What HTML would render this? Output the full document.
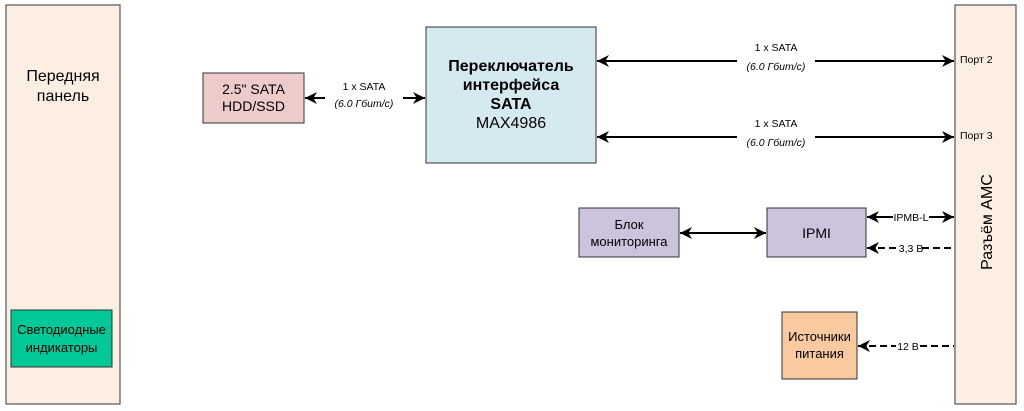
<!DOCTYPE html>
<html><head><meta charset="utf-8"><style>
html,body{margin:0;padding:0;background:#fff;}
svg{display:block;font-family:"Liberation Sans",Arial,sans-serif;}
</style></head><body>
<svg width="1024" height="411" viewBox="0 0 1024 411" xmlns="http://www.w3.org/2000/svg">
<defs>
<marker id="a" viewBox="0 0 10 10" refX="10" refY="5" markerWidth="6" markerHeight="6" orient="auto-start-reverse"><path d="M0,0 L10,5 L0,10 L3,5 z" fill="#000"/></marker>
</defs>
<rect x="6" y="5" width="114" height="399" fill="#fdeee3" stroke="#555" stroke-width="1.2"/>
<text x="63" y="81" font-size="16" text-anchor="middle">Передняя</text>
<text x="63" y="101" font-size="16" text-anchor="middle">панель</text>
<rect x="11" y="310" width="101" height="57" fill="#00c896" stroke="#333" stroke-width="1"/>
<text x="61.5" y="334" font-size="13" text-anchor="middle">Светодиодные</text>
<text x="61.5" y="352" font-size="13" text-anchor="middle">индикаторы</text>

<rect x="955" y="5" width="61" height="399" fill="#fdeee3" stroke="#555" stroke-width="1.2"/>
<text transform="translate(992,222) rotate(-90)" font-size="16" text-anchor="middle">Разъём AMC</text>
<text x="960" y="63" font-size="10.5">Порт 2</text>
<text x="960" y="139" font-size="10.5">Порт 3</text>

<rect x="203" y="73" width="101" height="50" fill="#eecbcb" stroke="#333"/>
<text x="253.5" y="94" font-size="14" text-anchor="middle">2.5" SATA</text>
<text x="253.5" y="111" font-size="14" text-anchor="middle">HDD/SSD</text>

<line x1="305" y1="98" x2="325" y2="98" stroke="#000" stroke-width="2" marker-start="url(#a)"/>
<line x1="403" y1="98" x2="425" y2="98" stroke="#000" stroke-width="2" marker-end="url(#a)"/>
<text x="364" y="90" font-size="10.5" text-anchor="middle">1 x SATA</text>
<text x="364" y="107" font-size="10.5" font-style="italic" text-anchor="middle">(6.0 Гбит/с)</text>

<rect x="426" y="27" width="170" height="136" fill="#d4eaf0" stroke="#333"/>
<text x="511" y="71" font-size="16" font-weight="bold" text-anchor="middle">Переключатель</text>
<text x="511" y="90" font-size="16" font-weight="bold" text-anchor="middle">интерфейса</text>
<text x="511" y="109" font-size="16" font-weight="bold" text-anchor="middle">SATA</text>
<text x="511" y="128" font-size="16" text-anchor="middle">MAX4986</text>

<line x1="597" y1="61" x2="737" y2="61" stroke="#000" stroke-width="2" marker-start="url(#a)"/>
<line x1="815" y1="61" x2="954" y2="61" stroke="#000" stroke-width="2" marker-end="url(#a)"/>
<text x="776" y="51" font-size="10.5" text-anchor="middle">1 x SATA</text>
<text x="776" y="70" font-size="10.5" font-style="italic" text-anchor="middle">(6.0 Гбит/с)</text>
<line x1="597" y1="137" x2="737" y2="137" stroke="#000" stroke-width="2" marker-start="url(#a)"/>
<line x1="815" y1="137" x2="954" y2="137" stroke="#000" stroke-width="2" marker-end="url(#a)"/>
<text x="776" y="127" font-size="10.5" text-anchor="middle">1 x SATA</text>
<text x="776" y="146" font-size="10.5" font-style="italic" text-anchor="middle">(6.0 Гбит/с)</text>

<rect x="579" y="208" width="100" height="49" fill="#cdc3dd" stroke="#333"/>
<text x="629" y="229" font-size="13" text-anchor="middle">Блок</text>
<text x="629" y="246" font-size="13" text-anchor="middle">мониторинга</text>
<line x1="680" y1="233" x2="766" y2="233" stroke="#000" stroke-width="2" marker-start="url(#a)" marker-end="url(#a)"/>
<rect x="767" y="208" width="99" height="49" fill="#cdc3dd" stroke="#333"/>
<text x="816.5" y="238" font-size="14" text-anchor="middle">IPMI</text>

<line x1="867" y1="217" x2="893" y2="217" stroke="#000" stroke-width="2" marker-start="url(#a)"/>
<line x1="929" y1="217" x2="954" y2="217" stroke="#000" stroke-width="2" marker-end="url(#a)"/>
<text x="911" y="221" font-size="10.5" text-anchor="middle">IPMB-L</text>
<line x1="867" y1="248" x2="897" y2="248" stroke="#000" stroke-width="2" stroke-dasharray="7,4" marker-start="url(#a)"/>
<line x1="922" y1="248" x2="954" y2="248" stroke="#000" stroke-width="2" stroke-dasharray="7,4"/>
<text x="911" y="252" font-size="10.5" text-anchor="middle">3,3 В</text>

<rect x="782" y="312" width="75" height="67" fill="#f9c9a0" stroke="#333"/>
<text x="819.5" y="341" font-size="13" text-anchor="middle">Источники</text>
<text x="819.5" y="358" font-size="13" text-anchor="middle">питания</text>
<line x1="858" y1="346" x2="896" y2="346" stroke="#000" stroke-width="2" stroke-dasharray="7,4" marker-start="url(#a)"/>
<line x1="920" y1="346" x2="954" y2="346" stroke="#000" stroke-width="2" stroke-dasharray="7,4"/>
<text x="908" y="350" font-size="10.5" text-anchor="middle">12 В</text>
</svg>
</body></html>
